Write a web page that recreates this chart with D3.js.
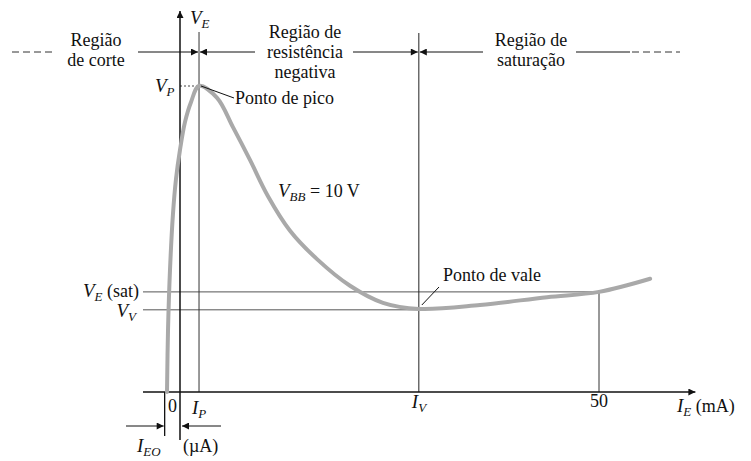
<!DOCTYPE html>
<html lang="pt">
<head>
<meta charset="utf-8">
<title>Característica do UJT</title>
<style>
  body { margin: 0; background: #fff; }
</style>
</head>
<body>
<svg id="chart" width="751" height="461" font-family="'Liberation Serif', 'Times New Roman', serif"></svg>
<script src="https://d3js.org/d3.v7.min.js"></script>
<script>
// curve V_E vs I_E (schematic units: I in "mA", V in volts)
const curveI = [-1.55, -1.43, -1.19, -0.84, -0.48, 0, 0.60, 1.31, 2.27,
                4.42, 6.32, 8.35, 10.5, 13.13, 16.35, 20.29, 24.22, 28.52, 35.8, 43.8, 50, 56.1];
const curveV = [0, 1.42, 2.81, 4.07, 4.87, 5.54, 6.18, 6.63, 7.0,
                6.73, 6.06, 5.31, 4.48, 3.69, 3.04, 2.43, 2.04, 1.90, 1.99, 2.17, 2.29, 2.59];

// key points
const IP = 2.27, IV = 28.5, IEO = -1.83, I50 = 50;
const VP = 7.0, VSAT = 2.29, VV = 1.88;
const VBB = 10;

// region labels
const regions = [
  {lines: ["Região", "de corte"], cx: 96},
  {lines: ["Região de", "resistência", "negativa"], cx: 305},
  {lines: ["Região de", "saturação"], cx: 531}
];

const svg = d3.select("#chart");
const x = d3.scaleLinear().domain([0, 50]).range([180, 599]);
const y = d3.scaleLinear().domain([0, 7]).range([392, 86]);
const FONT = "'Liberation Serif', 'Times New Roman', serif";

const defs = svg.append("defs");
defs.append("marker")
  .attr("id", "arr")
  .attr("viewBox", "0 0 10 10")
  .attr("refX", 10).attr("refY", 5)
  .attr("markerWidth", 9).attr("markerHeight", 7)
  .attr("markerUnits", "userSpaceOnUse")
  .attr("orient", "auto")
  .append("path").attr("d", "M0,0 L10,5 L0,10 Z").attr("fill", "#111");

function line(x1, y1, x2, y2, opts) {
  const l = svg.append("line")
    .attr("x1", x1).attr("y1", y1).attr("x2", x2).attr("y2", y2)
    .attr("stroke", (opts && opts.color) || "#111")
    .attr("stroke-width", (opts && opts.w) || 1);
  if (opts && opts.dash) l.attr("stroke-dasharray", opts.dash);
  if (opts && opts.arrow) l.attr("marker-end", "url(#arr)");
  return l;
}

function text(px, py, s, anchor, size) {
  return svg.append("text")
    .attr("x", px).attr("y", py)
    .attr("font-family", FONT)
    .attr("font-size", size || 18)
    .attr("fill", "#111")
    .attr("text-anchor", anchor || "start")
    .text(s);
}

// label with italic letter + subscript + rest
function subText(px, py, main, sub, rest, anchor, size) {
  size = size || 19;
  const t = text(px, py, null, anchor, size);
  t.append("tspan").attr("font-style", "italic").text(main);
  t.append("tspan").attr("font-style", "italic").attr("font-size", 13)
    .attr("dy", 4).text(sub);
  if (rest) t.append("tspan").attr("font-size", 18).attr("dy", -4).text(rest);
  return t;
}

// guide lines
line(x(0), y(VP), x(IP), y(VP), {dash: "2,2", color: "#444"});
line(143, y(VSAT), x(I50), y(VSAT), {color: "#555"});
line(143, y(VV), x(IV), y(VV), {color: "#555"});
line(x(IP), 32, x(IP), y(0), {color: "#333"});
line(x(IV), 33, x(IV), y(0), {color: "#222"});
line(x(I50), y(VSAT), x(I50), y(0), {color: "#333"});
line(x(IEO), y(0), x(IEO), 436, {w: 1.3});

// axes
line(143, y(0), x(61.5), y(0), {w: 1.5, arrow: true});
line(x(0), 440, x(0), 11, {w: 1.5, arrow: true});

// characteristic curve
const pts = curveI.map((d, i) => [x(d), y(curveV[i])]);
svg.append("path")
  .attr("d", d3.line().curve(d3.curveCatmullRom.alpha(0.5))(pts))
  .attr("fill", "none")
  .attr("stroke", "#a9a9a9")
  .attr("stroke-width", 4)
  .attr("stroke-linecap", "round");

// region arrows along the top
const ry = 52;
line(12, ry, 56, ry, {dash: "7,4", color: "#333"});
line(138, ry, x(IP) - 1, ry, {arrow: true});
line(255, ry, x(IP) + 1, ry, {arrow: true});
line(353, ry, x(IV) - 1, ry, {arrow: true});
line(483, ry, x(IV) + 1, ry, {arrow: true});
line(576, ry, 630, ry);
line(632, ry, 680, ry, {dash: "7,4", color: "#333"});

regions.forEach(r => {
  const top = r.lines.length === 3 ? 38 : 46;
  r.lines.forEach((s, j) => text(r.cx, top + j * 20, s, "middle"));
});

// axis labels
subText(190, 24, "V", "E");
subText(155, 92, "V", "P");
subText(139, 297, "V", "E", " (sat)", "end");
subText(136, 317, "V", "V", null, "end");
text(x(0) - 3, 412, "0", "end");
subText(x(IP) - 7, 414, "I", "P");
subText(x(IV) - 7, 408, "I", "V");
text(x(I50), 407, "50", "middle");
subText(677, 412, "I", "E", " (mA)");

// I_EO marker
line(126, 426, x(IEO) - 1, 426, {arrow: true});
line(221, 426, x(0) + 2, 426, {arrow: true});
subText(137, 452, "I", "EO");
text(183, 452, "(µA)");

// annotations
line(x(IP) + 2, y(VP), 234, 98);
text(235, 104, "Ponto de pico");
line(x(IV) + 3, 305, 439, 287);
text(443, 281, "Ponto de vale");
subText(278, 197, "V", "BB", " = " + VBB + " V");
</script>
</body>
</html>
